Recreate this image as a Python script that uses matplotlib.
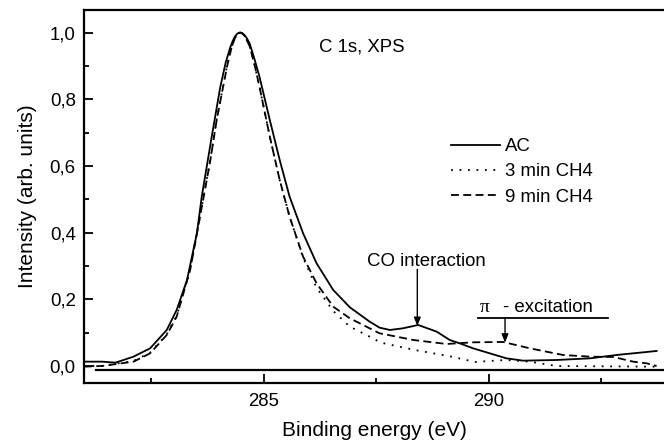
import matplotlib
matplotlib.use("Agg")
import matplotlib.pyplot as plt
from matplotlib.ticker import MultipleLocator, FuncFormatter

plt.rcParams['font.family'] = ['Liberation Sans', 'DejaVu Sans']

# C 1s spectra
ac_x = [281.0, 281.4, 281.7, 282.1, 282.47, 282.84, 283.06, 283.29, 283.51, 283.62,
        283.84, 284.03, 284.15, 284.25, 284.31, 284.36, 284.41, 284.47, 284.52, 284.57,
        284.62, 284.68, 284.78, 284.90, 285.13, 285.35, 285.57, 285.87, 286.17, 286.54,
        286.91, 287.35, 287.57, 287.80, 288.09, 288.43, 288.84, 289.13, 289.35, 289.65,
        290.02, 290.39, 290.76, 291.51, 292.25, 292.84, 293.73]
ac_y = [0.013, 0.013, 0.010, 0.028, 0.053, 0.108, 0.168, 0.258, 0.398, 0.51,
        0.688, 0.837, 0.910, 0.955, 0.976, 0.989, 0.997, 1.0, 0.998, 0.992,
        0.983, 0.968, 0.925, 0.868, 0.738, 0.618, 0.508, 0.398, 0.308, 0.228,
        0.176, 0.133, 0.115, 0.108, 0.113, 0.123, 0.103, 0.078, 0.068, 0.053,
        0.038, 0.023, 0.016, 0.018, 0.023, 0.033, 0.045]

ch4_9_x = [281.0, 281.4, 282.1, 282.47, 282.84, 283.06, 283.36, 283.58, 283.81, 283.95,
           284.18, 284.28, 284.36, 284.42, 284.47, 284.52, 284.58, 284.68, 284.78, 284.90,
           285.13, 285.35, 285.57, 285.87, 286.17, 286.54, 286.91, 287.35, 287.57, 287.80,
           288.32, 289.06, 289.65, 290.32, 290.91, 291.65, 292.25, 292.77, 293.21, 293.51,
           293.73]
ch4_9_y = [-0.002, 0.0, 0.013, 0.038, 0.093, 0.148, 0.288, 0.448, 0.618, 0.738,
           0.898, 0.955, 0.985, 0.997, 1.0, 0.997, 0.988, 0.960, 0.910, 0.838,
           0.688, 0.558, 0.448, 0.328, 0.248, 0.178, 0.143, 0.113, 0.098, 0.092,
           0.078, 0.066, 0.071, 0.072, 0.053, 0.033, 0.028, 0.027, 0.013, 0.008,
           0.0]

ch4_3_x = [281.0, 281.4, 282.1, 282.47, 282.84, 283.06, 283.36, 283.58, 283.81, 283.95,
           284.18, 284.28, 284.36, 284.42, 284.47, 284.52, 284.58, 284.68, 284.78, 284.90,
           285.13, 285.35, 285.57, 285.87, 286.17, 286.54, 286.91, 287.35, 287.60, 288.35,
           289.10, 289.70, 290.00, 290.39, 290.91, 291.51, 292.50, 293.73]
ch4_3_y = [0.0, 0.0, 0.015, 0.040, 0.095, 0.150, 0.290, 0.450, 0.620, 0.740,
           0.900, 0.955, 0.985, 0.997, 1.0, 0.997, 0.988, 0.960, 0.910, 0.838,
           0.688, 0.558, 0.448, 0.325, 0.235, 0.165, 0.118, 0.088, 0.070, 0.048,
           0.030, 0.012, 0.015, 0.018, 0.013, 0.0, -0.001, -0.002]

base_x = [281.27, 293.9]
base_y = [-0.013, -0.013]

fig = plt.figure(figsize=(6.64, 4.43), dpi=100)
ax = fig.add_axes([84 / 664, 60 / 443, 580 / 664, 373.5 / 443])

lw = 1.3
ax.plot(ac_x, ac_y, color='black', lw=lw, label='AC')
ax.plot(ch4_3_x, ch4_3_y, color='black', lw=lw, linestyle=(0, (1, 3.7)), label='3 min CH4')
ax.plot(ch4_9_x, ch4_9_y, color='black', lw=lw, linestyle=(0, (4.4, 2.4)), label='9 min CH4')
ax.plot(base_x, base_y, color='black', lw=1.6)

ax.set_xlim(281.0, 293.894)
ax.set_ylim(-0.051, 1.069)

ax.xaxis.set_major_locator(MultipleLocator(5))
ax.xaxis.set_minor_locator(MultipleLocator(2.5))
ax.yaxis.set_major_locator(MultipleLocator(0.2))
ax.yaxis.set_minor_locator(MultipleLocator(0.1))
ax.yaxis.set_major_formatter(FuncFormatter(lambda v, p: ("%.1f" % v).replace('.', ',')))
ax.xaxis.set_major_formatter(FuncFormatter(lambda v, p: "%d" % v))

ax.tick_params(which='both', direction='in', width=1.3, labelsize=13.4)
ax.tick_params(which='major', length=6.5)
ax.tick_params(which='minor', length=3.8)
ax.tick_params(axis='x', pad=7)
ax.tick_params(axis='y', pad=6)
ax.tick_params(top=False, right=False, which='both')

for s in ['left', 'bottom', 'top']:
    ax.spines[s].set_linewidth(1.6)
ax.spines['right'].set_visible(False)

ax.set_xlabel('Binding energy (eV)', fontsize=15, labelpad=8)
ax.set_ylabel('Intensity (arb. units)', fontsize=15, labelpad=9)

ax.text(287.17, 0.942, 'C 1s, XPS', fontsize=13.4, ha='center', va='baseline')

# CO interaction
ax.text(288.61, 0.30, 'CO interaction', fontsize=13.4, ha='center', va='baseline')
ax.annotate('', xy=(288.41, 0.12), xytext=(288.41, 0.29),
            arrowprops=dict(arrowstyle='-|>,head_length=0.5,head_width=0.2', lw=1.0,
                            color='black', mutation_scale=10, shrinkA=0, shrinkB=0))

# pi excitation
ax.text(289.80, 0.163, 'π', fontsize=14, ha='left', va='baseline',
        family=['Liberation Serif', 'DejaVu Serif'])
ax.text(290.32, 0.163, '- excitation', fontsize=13.4, ha='left', va='baseline')
ax.plot([289.77, 292.65], [0.145, 0.145], color='black', lw=1.3)
ax.annotate('', xy=(290.36, 0.07), xytext=(290.36, 0.145),
            arrowprops=dict(arrowstyle='-|>,head_length=0.5,head_width=0.2', lw=1.0,
                            color='black', mutation_scale=10, shrinkA=0, shrinkB=0))

ax.legend(loc='upper left', bbox_to_anchor=(451 / 664, 1 - 138 / 443),
          bbox_transform=fig.transFigure, frameon=False, fontsize=13.4,
          handlelength=2.65, handletextpad=0.25, labelspacing=0.45,
          borderpad=0, borderaxespad=0)

plt.savefig('out.png', dpi=100)
